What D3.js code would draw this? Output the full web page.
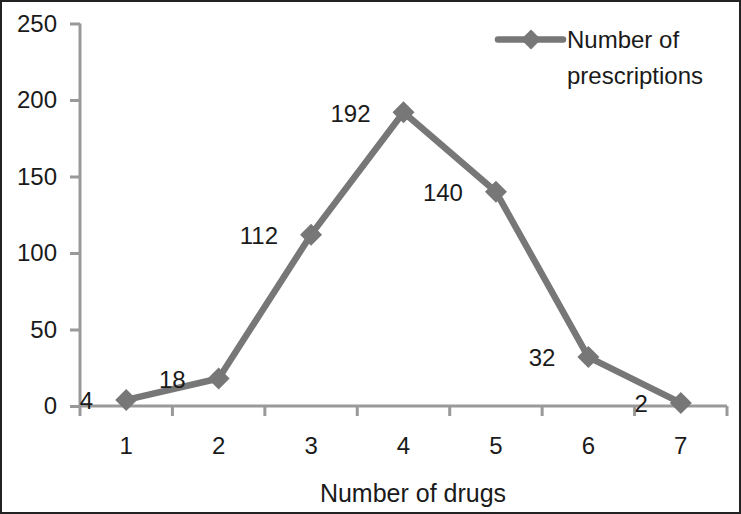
<!DOCTYPE html>
<html>
<head>
<meta charset="utf-8">
<script src="https://cdn.jsdelivr.net/npm/d3@7"></script>
<style>
  html, body { margin: 0; padding: 0; background: #fff; }
  svg { display: block; }
  text { font-family: "Liberation Sans", Arial, sans-serif; fill: #1a1a1a; }
</style>
</head>
<body>
<svg id="chart" width="741" height="514"></svg>
<script>
// Number of drugs per prescription vs. number of prescriptions
const categories = ['1', '2', '3', '4', '5', '6', '7'];
const prescriptions = [4, 18, 112, 192, 140, 32, 2];
const yTicks = [0, 50, 100, 150, 200, 250];
const seriesName = ['Number of', 'prescriptions'];
const xTitle = 'Number of drugs';

const W = 741, H = 514;
const plot = { left: 80, right: 727, top: 23.5, bottom: 406 };
const axisColor = '#999';
const lineColor = '#777';

const svg = d3.select('#chart');

// outer frame
svg.append('rect')
    .attr('x', 1).attr('y', 1).attr('width', W - 2).attr('height', H - 2)
    .attr('fill', '#fff').attr('stroke', '#222').attr('stroke-width', 2);

const x = d3.scaleBand().domain(categories).range([plot.left, plot.right]).padding(0);
const y = d3.scaleLinear().domain([0, 250]).range([plot.bottom, plot.top]);
const cx = d => x(d) + x.bandwidth() / 2;

// Y axis
const yAxis = svg.append('g')
    .attr('transform', `translate(${plot.left},0)`)
    .call(d3.axisLeft(y).tickValues(yTicks).tickSize(10).tickPadding(13));
yAxis.select('.domain').attr('stroke', axisColor).attr('stroke-width', 3)
    .attr('d', `M0,${plot.top}V${plot.bottom + 10}`);
yAxis.selectAll('.tick line').attr('stroke', axisColor).attr('stroke-width', 3);
yAxis.selectAll('.tick text').attr('font-size', 24).attr('fill', '#1a1a1a')
    .attr('font-family', '"Liberation Sans", Arial, sans-serif');

// X axis (ticks between categories)
const xg = svg.append('g');
xg.append('line')
    .attr('x1', plot.left).attr('x2', plot.right)
    .attr('y1', y(0)).attr('y2', y(0))
    .attr('stroke', axisColor).attr('stroke-width', 3);
const bounds = categories.map(c => x(c)).concat([plot.right]);
xg.selectAll('line.xt').data(bounds.slice(1)).join('line')
    .attr('class', 'xt')
    .attr('x1', d => d).attr('x2', d => d)
    .attr('y1', y(0)).attr('y2', y(0) + 10)
    .attr('stroke', axisColor).attr('stroke-width', 3);
xg.selectAll('text').data(categories).join('text')
    .attr('x', d => cx(d)).attr('y', 446)
    .attr('dy', '0.35em')
    .attr('text-anchor', 'middle')
    .attr('font-size', 24)
    .text(d => d);

svg.append('text')
    .attr('x', 413).attr('y', 493).attr('dy', '0.35em')
    .attr('text-anchor', 'middle')
    .attr('font-size', 25)
    .text(xTitle);

// Series line + diamond markers
const pts = categories.map((c, i) => ({ c, v: prescriptions[i] }));
svg.append('path')
    .datum(pts)
    .attr('d', d3.line().x(d => cx(d.c)).y(d => y(d.v)))
    .attr('fill', 'none').attr('stroke', lineColor)
    .attr('stroke-width', 6.5).attr('stroke-linejoin', 'round');

const diamond = r => `M0,${-r}L${r},0L0,${r}L${-r},0Z`;
svg.selectAll('path.mk').data(pts).join('path')
    .attr('class', 'mk')
    .attr('transform', d => `translate(${cx(d.c)},${y(d.v)})`)
    .attr('d', diamond(11))
    .attr('fill', lineColor);

// Data labels (left of point)
svg.selectAll('text.lbl').data(pts).join('text')
    .attr('class', 'lbl')
    .attr('x', d => cx(d.c) - 33).attr('y', d => y(d.v) + 1)
    .attr('dy', '0.35em')
    .attr('text-anchor', 'end')
    .attr('font-size', 24)
    .text(d => d.v);

// Legend
const lg = svg.append('g');
lg.append('line').attr('x1', 498).attr('x2', 563).attr('y1', 39.5).attr('y2', 39.5)
    .attr('stroke', lineColor).attr('stroke-width', 6.5).attr('stroke-linecap', 'round');
lg.append('path').attr('transform', 'translate(531,39.5)').attr('d', diamond(10)).attr('fill', lineColor);
lg.selectAll('text').data(seriesName).join('text')
    .attr('x', 567).attr('y', (d, i) => 40 + i * 36)
    .attr('dy', '0.35em')
    .attr('font-size', 24)
    .text(d => d);
</script>
</body>
</html>
